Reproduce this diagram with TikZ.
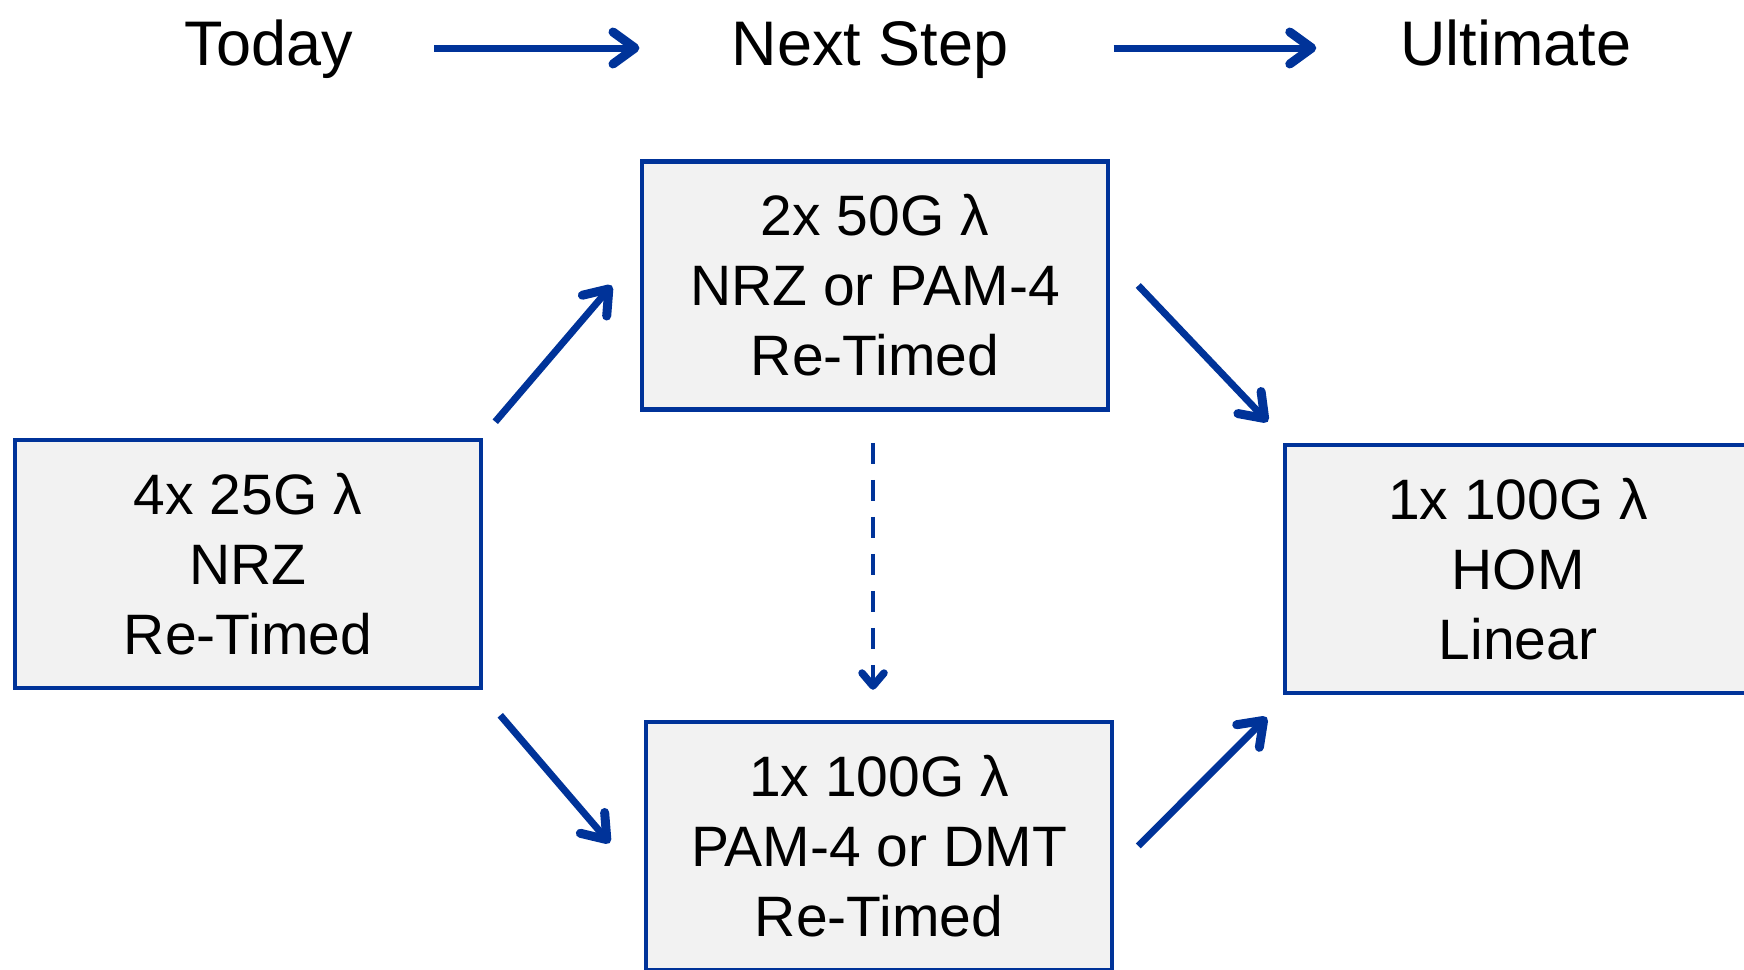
\documentclass[tikz,border=0pt]{standalone}
\usepackage{fontspec}
\setmainfont{Liberation Sans}
\usetikzlibrary{arrows.meta,positioning}
\definecolor{lineblue}{RGB}{0,51,153}
\definecolor{boxgray}{RGB}{242,242,242}
\tikzset{
 stagebox/.style={draw=lineblue,line width=4.5pt,fill=boxgray,minimum width=466pt,minimum height=248pt,
  align=center,inner sep=0pt,font=\fontsize{57}{70}\selectfont},
 stagehead/.style={inner sep=0pt,text height=34pt,text depth=0pt,font=\fontsize{63}{70}\selectfont},
 flow/.style={draw=lineblue,line width=7pt,-{Straight Barb[length=22pt,width=32pt,line width=9pt,round]}},
 maybe/.style={draw=lineblue,line width=4.5pt,dash pattern=on 21pt off 16pt,
  -{Straight Barb[length=13pt,width=22pt,line width=7.5pt,round]}}
}
\begin{document}
\begin{tikzpicture}[x=1pt,y=-1pt]
 \clip (0,0) rectangle (1744,969); %frame
 \node[stagehead] (hToday) at (269,48) {Today}; %headings
 \node[stagehead] (hNext) at (870,48) {Next Step};
 \node[stagehead] (hUltimate) at (1516,48) {Ultimate};
 \draw[flow,shorten <=81pt,shorten >=92pt] (hToday.east)--(hNext.west);
 \draw[flow,shorten <=105pt,shorten >=84pt] (hNext.east)--(hUltimate.west);

 \node[stagebox] (today) at (248,564) {4x 25G λ\\NRZ\\Re-Timed}; %today
 \node[stagebox] (nextA) at (875,285.5) {2x 50G λ\\NRZ or PAM-4\\Re-Timed}; %next step
 \node[stagebox] (nextB) at (879,846) {1x 100G λ\\PAM-4 or DMT\\Re-Timed};
 \node[stagebox] (ultimate) at (1518,569) {1x 100G λ\\HOM\\Linear}; %ultimate
 \coordinate (dashEnd) at (nextA.south |- nextB.north);

 \draw[flow] ([xshift=12pt,yshift=16pt]today.north east)--([xshift=-28pt]nextA.west);
 \draw[flow] ([xshift=17pt,yshift=-25pt]today.south east)--([xshift=-34pt,yshift=3pt]nextB.west);
 \draw[flow] ([xshift=28pt]nextA.east)--([xshift=-15pt,yshift=21pt]ultimate.north west);
 \draw[flow] ([xshift=24pt]nextB.east)--([xshift=-16pt,yshift=-22pt]ultimate.south west);
 \draw[maybe] ([xshift=-2pt,yshift=-31pt]nextA.south)--([xshift=-2pt,yshift=30pt]dashEnd);
\end{tikzpicture}
\end{document}
